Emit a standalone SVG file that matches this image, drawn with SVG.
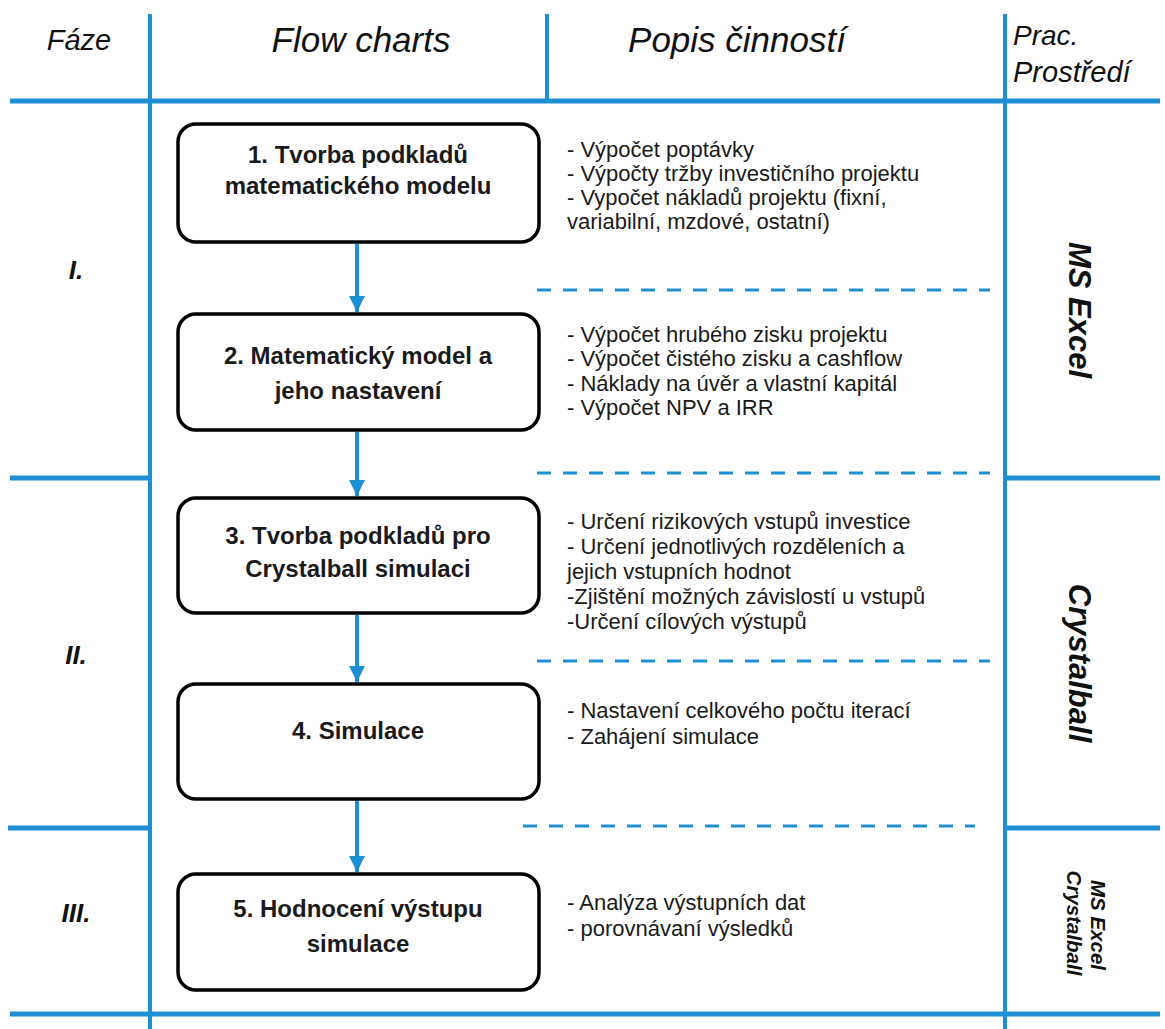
<svg xmlns="http://www.w3.org/2000/svg" width="1165" height="1029" viewBox="0 0 1165 1029">
<defs>
<style>
.grid{stroke:#1f8fd4;stroke-width:4;fill:none}
.gridh{stroke:#1f8fd4;stroke-width:5;fill:none}
.dash{stroke:#1f8fd4;stroke-width:3;stroke-dasharray:14 12;fill:none}
.box{fill:#fff;stroke:#000;stroke-width:3.5}
.bt{font-family:"Liberation Sans",Arial,sans-serif;font-weight:bold;font-size:24px;fill:#1a1a1a;text-anchor:middle}
.desc{font-family:"Liberation Sans",Arial,sans-serif;font-size:22px;fill:#1a1a1a}
.hd{font-family:"Liberation Sans",Arial,sans-serif;font-style:italic;fill:#111}
.ph{font-family:"Liberation Sans",Arial,sans-serif;font-style:italic;font-weight:bold;font-size:26px;fill:#111;text-anchor:middle}
.env{font-family:"Liberation Sans",Arial,sans-serif;font-style:italic;font-weight:bold;fill:#111;text-anchor:middle}
.arr{stroke:#1f8fd4;stroke-width:4;fill:none;marker-end:url(#ah)}
</style>
<marker id="ah" viewBox="0 0 10 10" refX="10" refY="5" markerUnits="userSpaceOnUse" markerWidth="16" markerHeight="16" orient="auto">
<path d="M0,0 L10,5 L0,10 z" fill="#1f8fd4"/>
</marker>
</defs>
<rect width="1165" height="1029" fill="#fff"/>
<g id="grid">
<line class="grid" x1="150" y1="14" x2="150" y2="1029"/>
<line class="grid" x1="547" y1="14" x2="547" y2="101"/>
<line class="grid" x1="1005" y1="14" x2="1005" y2="1029"/>
<line class="gridh" x1="10" y1="101" x2="1160" y2="101"/>
<line class="gridh" x1="10" y1="478" x2="150" y2="478"/>
<line class="gridh" x1="1005" y1="478" x2="1160" y2="478"/>
<line class="gridh" x1="8" y1="828" x2="150" y2="828"/>
<line class="gridh" x1="1005" y1="828" x2="1160" y2="828"/>
<line class="gridh" x1="10" y1="1014" x2="1160" y2="1014"/>
<line class="dash" x1="537" y1="290" x2="990" y2="290"/>
<line class="dash" x1="537" y1="473" x2="990" y2="473"/>
<line class="dash" x1="537" y1="661" x2="990" y2="661"/>
<line class="dash" x1="523" y1="826" x2="975" y2="826"/>
</g>
<g id="headers">
<text class="hd" x="79" y="50" font-size="29" text-anchor="middle">Fáze</text>
<text class="hd" x="361" y="52" font-size="35" text-anchor="middle">Flow charts</text>
<text class="hd" x="737" y="52" font-size="35" text-anchor="middle">Popis činností</text>
<text class="hd" x="1013" y="45" font-size="28">Prac.</text>
<text class="hd" x="1013" y="82" font-size="29">Prostředí</text>
</g>
<g id="phases">
<text class="ph" x="76" y="279">I.</text>
<text class="ph" x="76" y="664">II.</text>
<text class="ph" x="76" y="922">III.</text>
</g>
<g id="environments">
<text class="env" font-size="31" transform="translate(1069,310) rotate(90)">MS Excel</text>
<text class="env" font-size="31" transform="translate(1069,663) rotate(90)">Crystalball</text>
<text class="env" font-size="20.5" transform="translate(1091,925) rotate(90)">MS Excel</text>
<text class="env" font-size="20.5" transform="translate(1067,923) rotate(90)">Crystalball</text>
</g>
<g id="connectors">
<line class="arr" x1="357" y1="244" x2="357" y2="312"/>
<line class="arr" x1="357" y1="432" x2="357" y2="496"/>
<line class="arr" x1="357" y1="615" x2="357" y2="682"/>
<line class="arr" x1="357" y1="800" x2="357" y2="872"/>
</g>
<g id="node1">
<rect class="box" x="178" y="124" width="361" height="118" rx="18"/>
<text class="bt" x="358" y="163">1. Tvorba podkladů</text>
<text class="bt" x="358" y="194">matematického modelu</text>
</g>
<g id="node2">
<rect class="box" x="178" y="314" width="361" height="116" rx="18"/>
<text class="bt" x="358" y="364">2. Matematický model a</text>
<text class="bt" x="358" y="399">jeho nastavení</text>
</g>
<g id="node3">
<rect class="box" x="178" y="498" width="361" height="115" rx="18"/>
<text class="bt" x="358" y="544">3. Tvorba podkladů pro</text>
<text class="bt" x="358" y="577">Crystalball simulaci</text>
</g>
<g id="node4">
<rect class="box" x="178" y="684" width="361" height="115" rx="18"/>
<text class="bt" x="358" y="739">4. Simulace</text>
</g>
<g id="node5">
<rect class="box" x="178" y="874" width="361" height="116" rx="18"/>
<text class="bt" x="358" y="917">5. Hodnocení výstupu</text>
<text class="bt" x="358" y="952">simulace</text>
</g>
<g id="descriptions">
<text class="desc" x="567" y="157">- Výpočet poptávky</text>
<text class="desc" x="567" y="181">- Výpočty tržby investičního projektu</text>
<text class="desc" x="567" y="205">- Vypočet nákladů projektu (fixní,</text>
<text class="desc" x="567" y="229">variabilní, mzdové, ostatní)</text>
<text class="desc" x="567" y="342">- Výpočet hrubého zisku projektu</text>
<text class="desc" x="567" y="366">- Výpočet čistého zisku a cashflow</text>
<text class="desc" x="567" y="391">- Náklady na úvěr a vlastní kapitál</text>
<text class="desc" x="567" y="415">- Výpočet NPV a IRR</text>
<text class="desc" x="567" y="529">- Určení rizikových vstupů investice</text>
<text class="desc" x="567" y="554">- Určení jednotlivých rozděleních a</text>
<text class="desc" x="567" y="579">jejich vstupních hodnot</text>
<text class="desc" x="567" y="604">-Zjištění možných závislostí u vstupů</text>
<text class="desc" x="567" y="629">-Určení cílových výstupů</text>
<text class="desc" x="567" y="718">- Nastavení celkového počtu iterací</text>
<text class="desc" x="567" y="744">- Zahájení simulace</text>
<text class="desc" x="567" y="910">- Analýza výstupních dat</text>
<text class="desc" x="567" y="936">- porovnávaní výsledků</text>
</g>
</svg>
